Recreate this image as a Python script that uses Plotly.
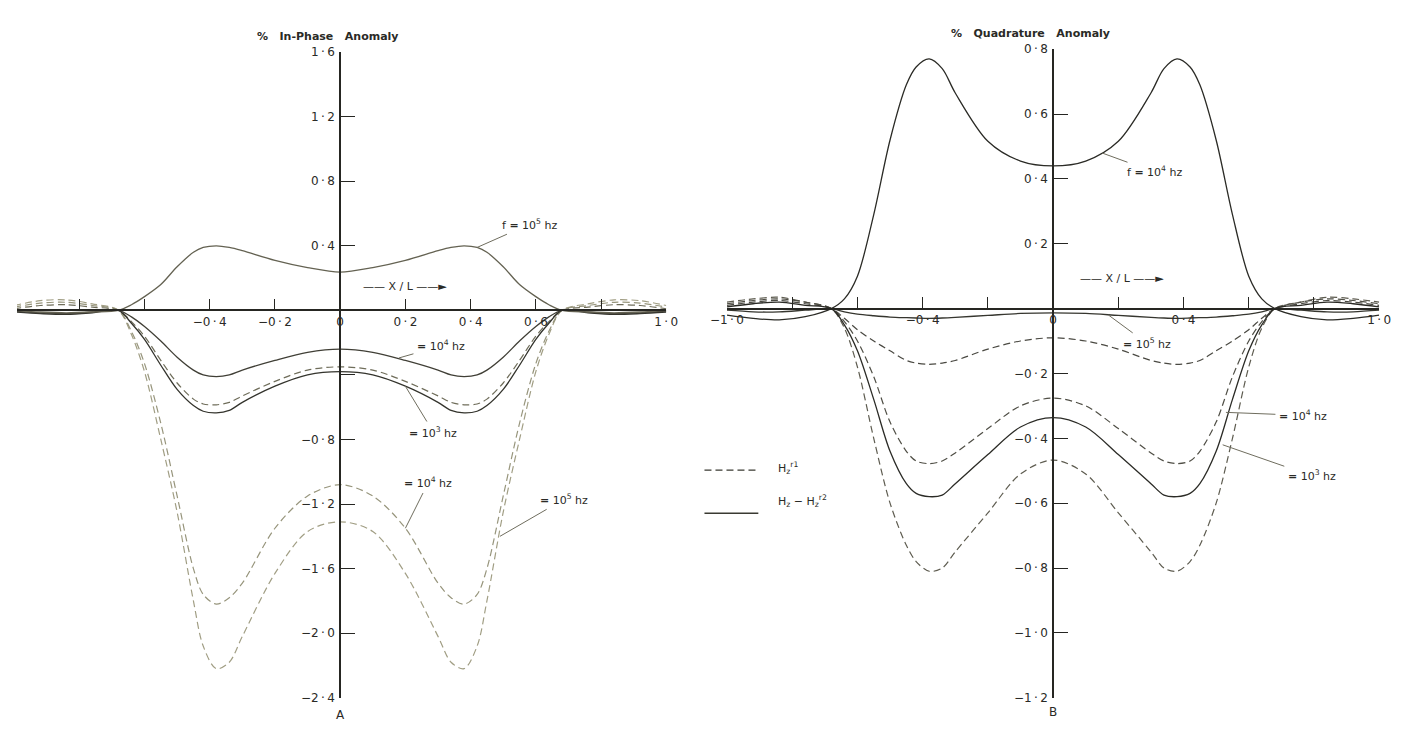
import plotly.graph_objects as go

W, H = 1401, 742

# ---------------- data ----------------
X_POS = [-1.0, -0.92, -0.84, -0.76, -0.68, -0.64, -0.6, -0.55, -0.5, -0.45, -0.42, -0.38, -0.34, -0.3, -0.2, -0.1, 0.0,
         0.1, 0.2, 0.3, 0.34, 0.38, 0.42, 0.45, 0.5, 0.55, 0.6, 0.64, 0.68, 0.76, 0.84, 0.92, 1.0]

# Panel A : % In-Phase Anomaly
IP_SOLID_1E5 = [0.0, -0.01, -0.015, -0.01, 0.0, 0.035, 0.085, 0.16, 0.27, 0.36, 0.39, 0.40, 0.39, 0.37, 0.31, 0.265, 0.237,
                0.265, 0.31, 0.37, 0.39, 0.40, 0.39, 0.36, 0.27, 0.16, 0.085, 0.035, 0.0, -0.01, -0.015, -0.01, 0.0]
IP_SOLID_1E4 = [-0.005, -0.015, -0.02, -0.01, 0.0, -0.04, -0.10, -0.19, -0.29, -0.37, -0.40, -0.41, -0.40, -0.37, -0.31, -0.26, -0.24,
                -0.26, -0.31, -0.37, -0.40, -0.41, -0.40, -0.37, -0.29, -0.19, -0.10, -0.04, 0.0, -0.01, -0.02, -0.015, -0.005]
IP_SOLID_1E3 = [-0.01, -0.02, -0.025, -0.015, 0.0, -0.08, -0.18, -0.34, -0.49, -0.59, -0.625, -0.635, -0.62, -0.57, -0.47, -0.40, -0.38,
                -0.40, -0.47, -0.57, -0.62, -0.635, -0.625, -0.59, -0.49, -0.34, -0.18, -0.08, 0.0, -0.015, -0.025, -0.02, -0.01]
IP_DASH_1E3 = [0.01, 0.03, 0.035, 0.02, 0.0, -0.07, -0.16, -0.31, -0.45, -0.55, -0.58, -0.585, -0.57, -0.53, -0.44, -0.37, -0.35,
               -0.37, -0.44, -0.53, -0.57, -0.585, -0.58, -0.55, -0.45, -0.31, -0.16, -0.07, 0.0, 0.02, 0.035, 0.03, 0.01]
IP_DASH_1E4 = [0.02, 0.045, 0.05, 0.03, 0.0, -0.13, -0.33, -0.70, -1.15, -1.60, -1.76, -1.82, -1.78, -1.69, -1.35, -1.15, -1.08,
               -1.15, -1.35, -1.69, -1.78, -1.82, -1.76, -1.60, -1.15, -0.70, -0.33, -0.13, 0.0, 0.03, 0.05, 0.045, 0.02]
IP_DASH_1E5 = [0.03, 0.06, 0.065, 0.04, 0.0, -0.15, -0.38, -0.80, -1.25, -1.80, -2.08, -2.22, -2.18, -2.02, -1.63, -1.37, -1.31,
               -1.37, -1.63, -2.02, -2.18, -2.22, -2.08, -1.80, -1.25, -0.80, -0.38, -0.15, 0.0, 0.04, 0.065, 0.06, 0.03]

# Panel B : % Quadrature Anomaly
Q_SOLID_1E4 = [-0.02, -0.03, -0.035, -0.025, 0.0, 0.03, 0.10, 0.29, 0.52, 0.69, 0.745, 0.77, 0.74, 0.665, 0.516, 0.455, 0.44,
               0.455, 0.516, 0.665, 0.74, 0.77, 0.745, 0.69, 0.52, 0.29, 0.10, 0.03, 0.0, -0.025, -0.035, -0.03, -0.02]
Q_SOLID_1E5 = [-0.005, -0.01, -0.01, -0.005, 0.0, -0.01, -0.017, -0.022, -0.026, -0.028, -0.029, -0.03, -0.029, -0.027, -0.021, -0.015, -0.013,
               -0.015, -0.021, -0.027, -0.029, -0.03, -0.029, -0.028, -0.026, -0.022, -0.017, -0.01, 0.0, -0.005, -0.01, -0.01, -0.005]
Q_DASH_1E5 = [0.01, 0.02, 0.025, 0.015, 0.0, -0.03, -0.065, -0.10, -0.13, -0.16, -0.168, -0.172, -0.168, -0.16, -0.125, -0.10, -0.09,
              -0.10, -0.125, -0.16, -0.168, -0.172, -0.168, -0.16, -0.13, -0.10, -0.065, -0.03, 0.0, 0.015, 0.025, 0.02, 0.01]
Q_DASH_1E4 = [0.015, 0.025, 0.03, 0.02, 0.0, -0.04, -0.10, -0.21, -0.35, -0.44, -0.47, -0.478, -0.47, -0.445, -0.37, -0.30, -0.276,
              -0.30, -0.37, -0.445, -0.47, -0.478, -0.47, -0.44, -0.35, -0.21, -0.10, -0.04, 0.0, 0.02, 0.03, 0.025, 0.015]
Q_SOLID_1E3 = [0.005, 0.015, 0.02, 0.01, 0.0, -0.05, -0.13, -0.28, -0.44, -0.54, -0.57, -0.58, -0.575, -0.54, -0.45, -0.365, -0.336,
               -0.365, -0.45, -0.54, -0.575, -0.58, -0.57, -0.54, -0.44, -0.28, -0.13, -0.05, 0.0, 0.01, 0.02, 0.015, 0.005]
Q_DASH_1E3 = [0.02, 0.03, 0.035, 0.02, 0.0, -0.06, -0.18, -0.40, -0.60, -0.73, -0.78, -0.81, -0.80, -0.75, -0.63, -0.51, -0.467,
              -0.51, -0.63, -0.75, -0.80, -0.81, -0.78, -0.73, -0.60, -0.40, -0.18, -0.06, 0.0, 0.02, 0.035, 0.03, 0.02]

# tick values / labels (labelled ticks) and unlabelled tick marks
A_XTICKS = [-1.0, -0.4, -0.2, 0.0, 0.2, 0.4, 0.6, 1.0]
A_XLABELS = ["−1\u2009·\u20090", "−0\u2009·\u20094", "−0\u2009·\u20092", "0", "0\u2009·\u20092", "0\u2009·\u20094",
             "0\u2009·\u20096", "1\u2009·\u20090"]
A_XMINOR = [-0.8, -0.6, 0.8]
A_YTICKS = [-2.4, -2.0, -1.6, -1.2, -0.8, 0.4, 0.8, 1.2, 1.6]
A_YLABELS = ["−2\u2009·\u20094", "−2\u2009·\u20090", "−1\u2009·\u20096", "−1\u2009·\u20092", "−0\u2009·\u20098",
             "0\u2009·\u20094", "0\u2009·\u20098", "1\u2009·\u20092", "1\u2009·\u20096"]
A_YMINOR = [-0.4]
B_XTICKS = [-1.0, -0.4, 0.0, 0.4, 1.0]
B_XLABELS = ["−1\u2009·\u20090", "−0\u2009·\u20094", "0", "0\u2009·\u20094", "1\u2009·\u20090"]
B_XMINOR = [-0.8, -0.6, -0.2, 0.2, 0.6, 0.8]
B_YTICKS = [-1.2, -1.0, -0.8, -0.6, -0.4, -0.2, 0.2, 0.4, 0.6, 0.8]
B_YLABELS = ["−1\u2009·\u20092", "−1\u2009·\u20090", "−0\u2009·\u20098", "−0\u2009·\u20096", "−0\u2009·\u20094",
             "−0\u2009·\u20092", "0\u2009·\u20092", "0\u2009·\u20094", "0\u2009·\u20096", "0\u2009·\u20098"]

# ---------------- layout geometry (pixels) ----------------
A_XPIX = (0, 663)
A_XRANGE = [-0.991, 1.0]
A_YPIX = (46, 704)
A_YRANGE = [-2.4, 1.6]
B_XPIX = (725, 1391)
B_XRANGE = [-1.0, 1.0]
B_YPIX = (43, 704)
B_YRANGE = [-1.2, 0.8]


def xdom(p):
    return [p[0] / W, p[1] / W]


def ydom(p):
    return [1 - p[1] / H, 1 - p[0] / H]


def zero_pos(dom, rng):
    return dom[0] + (0 - rng[0]) / (rng[1] - rng[0]) * (dom[1] - dom[0])


INK = "#262622"
FONT = "DejaVu Sans"
TICKFONT = dict(family=FONT, size=12, color="#2a2a26")

fig = go.Figure()


def add(x, y, xa, ya, color, dash="solid", width=1.3):
    fig.add_trace(go.Scatter(
        x=x, y=y, mode="lines", xaxis=xa, yaxis=ya, hoverinfo="skip", showlegend=False,
        line=dict(color=color, width=width, dash=dash, shape="spline", smoothing=0.9)))


DASH = "7px,4px"
# Panel A
add(X_POS, IP_DASH_1E5, "x", "y", "#a19e84", DASH, 1.2)
add(X_POS, IP_DASH_1E4, "x", "y", "#97957c", DASH, 1.2)
add(X_POS, IP_DASH_1E3, "x", "y", "#6f6d5a", DASH, 1.2)
add(X_POS, IP_SOLID_1E3, "x", "y", "#34342d", "solid", 1.3)
add(X_POS, IP_SOLID_1E4, "x", "y", "#403f36", "solid", 1.3)
add(X_POS, IP_SOLID_1E5, "x", "y", "#646252", "solid", 1.3)
# Panel B
add(X_POS, Q_DASH_1E3, "x2", "y2", "#5e5c50", DASH, 1.2)
add(X_POS, Q_DASH_1E4, "x2", "y2", "#4f4e45", DASH, 1.2)
add(X_POS, Q_DASH_1E5, "x2", "y2", "#4a4942", DASH, 1.2)
add(X_POS, Q_SOLID_1E3, "x2", "y2", "#2b2b26", "solid", 1.3)
add(X_POS, Q_SOLID_1E5, "x2", "y2", "#36362f", "solid", 1.3)
add(X_POS, Q_SOLID_1E4, "x2", "y2", "#2b2b26", "solid", 1.3)


def xaxis_cfg(pix, rng, ydomain, yrng, vals, labels, minor):
    return dict(domain=xdom(pix), range=rng, anchor="free", position=zero_pos(ydomain, yrng),
                showline=True, linecolor=INK, linewidth=1.6, ticks="inside", ticklen=11,
                tickwidth=1.4, tickcolor=INK, tickmode="array", tickvals=vals, ticktext=labels,
                minor=dict(tickmode="array", tickvals=minor, ticks="inside", ticklen=11,
                           tickwidth=1.4, tickcolor=INK, showgrid=False),
                showgrid=False, zeroline=False, tickfont=TICKFONT, ticklabeloverflow="allow",
                fixedrange=True)


def yaxis_cfg(pix, rng, xdomain, xrng, vals, labels, minor=None):
    cfg = dict(domain=ydom(pix), range=rng, anchor="free", position=zero_pos(xdomain, xrng),
               showline=True, linecolor=INK, linewidth=1.6, ticks="inside", ticklen=14,
               tickwidth=1.4, tickcolor=INK, tickmode="array", tickvals=vals, ticktext=labels,
               showgrid=False, zeroline=False, tickfont=TICKFONT, ticklabeloverflow="allow",
               ticklabelstandoff=2, fixedrange=True)
    if minor:
        cfg["minor"] = dict(tickmode="array", tickvals=minor, ticks="inside", ticklen=14,
                            tickwidth=1.4, tickcolor=INK, showgrid=False)
    return cfg


fig.update_layout(
    width=W, height=H, margin=dict(l=0, r=0, t=0, b=0),
    paper_bgcolor="#ffffff", plot_bgcolor="rgba(0,0,0,0)",
    xaxis=xaxis_cfg(A_XPIX, A_XRANGE, ydom(A_YPIX), A_YRANGE, A_XTICKS, A_XLABELS, A_XMINOR),
    yaxis=yaxis_cfg(A_YPIX, A_YRANGE, xdom(A_XPIX), A_XRANGE, A_YTICKS, A_YLABELS, A_YMINOR),
    xaxis2=xaxis_cfg(B_XPIX, B_XRANGE, ydom(B_YPIX), B_YRANGE, B_XTICKS, B_XLABELS, B_XMINOR),
    yaxis2=yaxis_cfg(B_YPIX, B_YRANGE, xdom(B_XPIX), B_XRANGE, B_YTICKS, B_YLABELS),
    showlegend=False,
)

ANN_FONT = dict(family=FONT, size=11, color="#2a2a26")


def px_note(text, px, py, size=11, bold=False, xanchor="center"):
    t = f"<b>{text}</b>" if bold else text
    fig.add_annotation(x=px / W, y=1 - py / H, xref="paper", yref="paper", text=t, showarrow=False,
                       font=dict(family=FONT, size=size, color="#2a2a26"), xanchor=xanchor)


def leader(text, x, y, ax, ay, xr, yr):
    fig.add_annotation(x=x, y=y, xref=xr, yref=yr, ax=ax, ay=ay, text=text, showarrow=True,
                       arrowhead=0, arrowwidth=1, arrowcolor="#6f6d5e", standoff=0, startstandoff=2,
                       font=ANN_FONT)


# titles and panel letters
px_note("%\u00a0\u00a0\u00a0In-Phase\u00a0\u00a0\u00a0Anomaly", 318, 21, 11, True)
px_note("%\u00a0\u00a0\u00a0Quadrature\u00a0\u00a0\u00a0Anomaly", 1035, 18, 11, True)
px_note("A", 330, 731, 12)
px_note("B", 1058, 728, 12)
px_note("—— X / L ——►", 396, 285, 11)
px_note("—— X / L ——►", 1128, 277, 11)

EQ = "<b>=</b>"
# curve labels, panel A
leader("f " + EQ + " 10<sup>5</sup> hz", 0.42, 0.39, 52, -23, "x", "y")
leader(EQ + " 10<sup>4</sup> hz", 0.18, -0.295, 42, -12, "x", "y")
leader(EQ + " 10<sup>3</sup> hz", 0.2, -0.47, 28, 46, "x", "y")
leader(EQ + " 10<sup>4</sup> hz", 0.2, -1.35, 23, -46, "x", "y")
leader(EQ + " 10<sup>5</sup> hz", 0.49, -1.40, 64, -37, "x", "y")
# curve labels, panel B
leader("f " + EQ + " 10<sup>4</sup> hz", 0.15, 0.48, 52, 19, "x2", "y2")
leader(EQ + " 10<sup>5</sup> hz", 0.17, -0.02, 38, 28, "x2", "y2")
leader(EQ + " 10<sup>4</sup> hz", 0.53, -0.32, 77, 3, "x2", "y2")
leader(EQ + " 10<sup>3</sup> hz", 0.52, -0.42, 89, 31, "x2", "y2")

# key
fig.add_shape(type="line", xref="paper", yref="paper", x0=702 / W, x1=757 / W, y0=1 - 472 / H, y1=1 - 472 / H,
              line=dict(color="#3a3a32", width=1.2, dash=DASH))
fig.add_shape(type="line", xref="paper", yref="paper", x0=702 / W, x1=757 / W, y0=1 - 516 / H, y1=1 - 516 / H,
              line=dict(color="#3a3a32", width=1.3))
px_note("H<sub>z</sub><sup>r1</sup>", 775, 470, 11, xanchor="left")
px_note("H<sub>z</sub> − H<sub>z</sub><sup>r2</sup>", 775, 514, 11, xanchor="left")

fig.write_html("out.html")
